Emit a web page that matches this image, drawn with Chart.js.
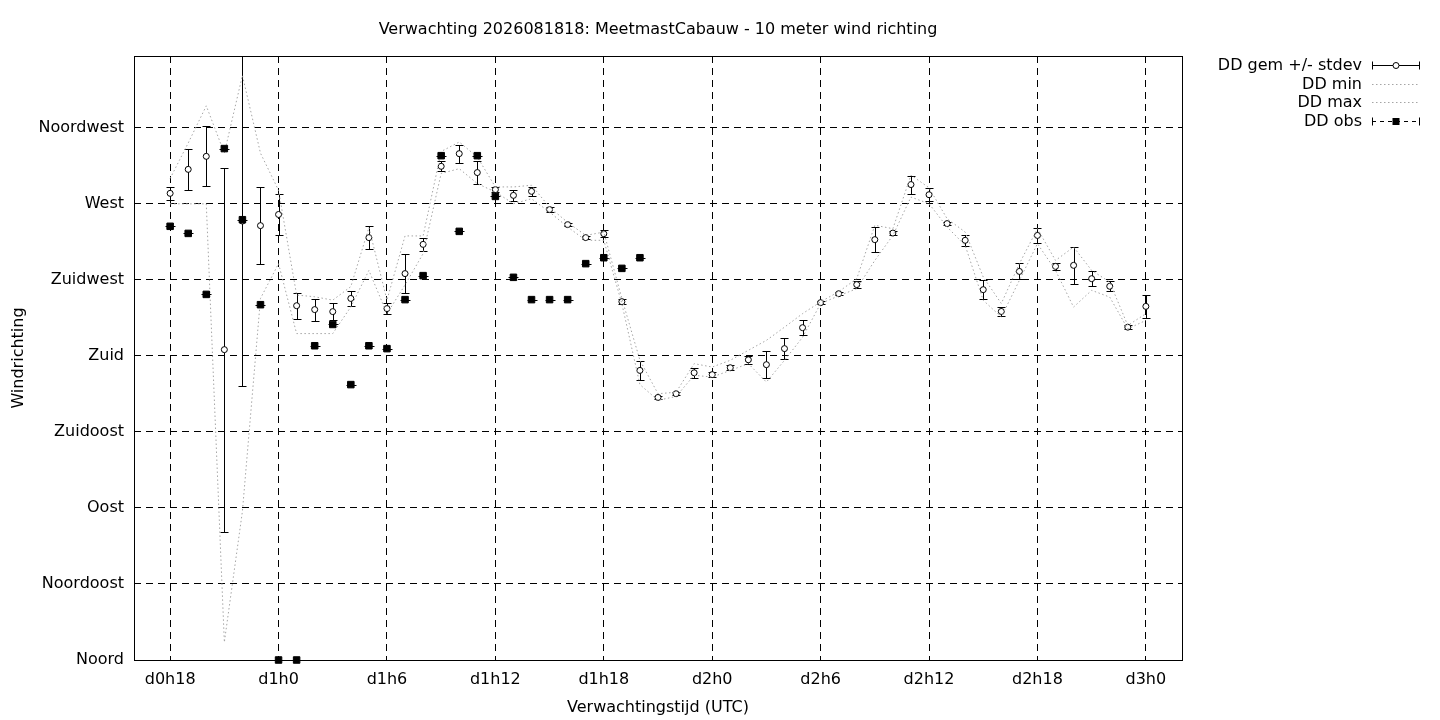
<!DOCTYPE html>
<html>
<head>
<meta charset="utf-8">
<title>Verwachting 2026081818: MeetmastCabauw - 10 meter wind richting</title>
<script src="https://cdn.jsdelivr.net/npm/chart.js"></script>
<style>
  body { margin: 0; background: #fff; }
  canvas { display: block; }
</style>
</head>
<body>
<canvas id="ddChart" width="1440" height="720"></canvas>
<script>
// forecast hours since d0h0 (hourly, d0h18 .. d3h0)
const hours = [18, 19, 20, 21, 22, 23, 24, 25, 26, 27, 28, 29, 30, 31, 32, 33, 34, 35, 36, 37,
  38, 39, 40, 41, 42, 43, 44, 45, 46, 47, 48, 49, 50, 51, 52, 53, 54, 55, 56, 57,
  58, 59, 60, 61, 62, 63, 64, 65, 66, 67, 68, 69, 70, 71, 72];

// ensemble mean wind direction (degrees)
const ddMean = [276.2, 290.4, 298.1, 183.7, 259.8, 257.1, 263.7, 209.7, 207.4, 206.2,
  214.0, 250.0, 208.0, 228.7, 246.0, 292.2, 299.7, 288.5, 278.4, 275.0,
  277.4, 266.6, 257.7, 250.0, 252.3, 212.1, 171.4, 155.4, 157.6, 170.0,
  168.9, 173.0, 177.7, 174.8, 184.3, 196.7, 211.5, 216.8, 222.2, 248.8,
  252.7, 281.4, 275.4, 258.3, 248.4, 219.2, 206.3, 230.0, 251.3, 233.0,
  233.6, 225.7, 221.2, 197.0, 209.3];

// standard deviation around the mean
const ddStdev = [4.0, 12.0, 17.7, 107.7, 97.5, 23.0, 12.3, 7.7, 6.5, 5.0,
  4.5, 6.6, 3.2, 11.5, 3.7, 3.0, 5.3, 7.0, 1.5, 3.3,
  2.6, 1.5, 1.0, 1.0, 2.0, 1.5, 5.4, 1.0, 1.0, 2.8,
  1.5, 1.5, 2.5, 7.8, 6.2, 4.4, 1.0, 0.8, 2.3, 7.4,
  1.0, 5.3, 3.7, 1.0, 3.3, 5.6, 2.6, 4.7, 4.2, 2.2,
  11.0, 4.4, 3.0, 1.0, 6.6];

const ddMin = [270.0, 270.0, 270.0, 10.5, 88.0, 214.0, 234.6, 193.2, 193.2, 193.2,
  209.0, 230.6, 205.0, 222.0, 240.5, 288.0, 290.8, 282.0, 277.0, 270.1,
  273.0, 265.1, 256.3, 248.4, 248.4, 210.9, 163.0, 153.7, 156.0, 168.5,
  167.5, 171.4, 175.4, 164.5, 177.4, 191.0, 211.0, 215.5, 219.8, 236.5,
  251.3, 274.0, 270.1, 256.3, 245.4, 212.9, 203.0, 224.7, 246.4, 230.6,
  208.9, 218.8, 214.8, 196.0, 201.0];

const ddMax = [285.0, 306.0, 328.0, 300.0, 346.0, 300.0, 278.0, 216.0, 215.0, 213.0,
  221.0, 256.0, 213.0, 251.0, 251.0, 301.0, 306.6, 297.7, 280.0, 280.0,
  281.0, 268.0, 259.0, 251.3, 253.3, 214.0, 177.4, 157.6, 158.5, 175.4,
  173.4, 177.4, 183.3, 189.2, 197.0, 205.0, 212.0, 218.0, 225.7, 257.3,
  255.3, 287.0, 279.5, 261.2, 253.3, 226.7, 211.0, 234.6, 255.3, 236.5,
  244.4, 230.6, 223.7, 198.0, 205.0];

// observations (only up to d1h20)
const obsHours = [18, 19, 20, 21, 22, 23, 24, 25, 26, 27, 28, 29, 30, 31,
  32, 33, 34, 35, 36, 37, 38, 39, 40, 41, 42, 43, 44];
const ddObs = [256.7, 252.5, 216.4, 302.7, 260.6, 210.3, 0, 0, 186.0, 198.6, 163.0, 186.0, 184.3, 213.3,
  227.5, 298.5, 253.7, 298.5, 274.4, 226.5, 213.3, 213.3, 213.3, 234.6, 238.1, 231.8, 238.1];

const dirTicks = [0, 45, 90, 135, 180, 225, 270, 315];
const dirLabels = ['Noord', 'Noordoost', 'Oost', 'Zuidoost', 'Zuid', 'Zuidwest', 'West', 'Noordwest'];
const timeTicks = [18, 24, 30, 36, 42, 48, 54, 60, 66, 72];
const timeLabels = ['d0h18', 'd1h0', 'd1h6', 'd1h12', 'd1h18', 'd2h0', 'd2h6', 'd2h12', 'd2h18', 'd3h0'];

const FONT = 'DejaVu Sans';
const FONT_SIZE = 16;
const DOTS = 'rgb(165,165,165)';

Chart.defaults.font.family = FONT;
Chart.defaults.font.size = FONT_SIZE;
Chart.defaults.color = '#000';

function xy(xs, ys) {
  return xs.map((h, i) => ({x: h, y: ys[i]}));
}

// error bars for the mean (+/- stdev) and the small caps on the observations
const errorBars = {
  id: 'errorBars',
  beforeDatasetsDraw(chart) {
    const {ctx, chartArea: a, scales: {x, y}} = chart;
    ctx.save();
    ctx.beginPath();
    ctx.rect(a.left, a.top, a.width, a.height + 5);
    ctx.clip();
    ctx.strokeStyle = '#000';
    ctx.lineWidth = 1;
    ctx.beginPath();
    hours.forEach((h, i) => {
      const px = Math.round(x.getPixelForValue(h)) + 0.5;
      const top = Math.round(y.getPixelForValue(ddMean[i] + ddStdev[i])) + 0.5;
      const bot = Math.round(y.getPixelForValue(ddMean[i] - ddStdev[i])) + 0.5;
      ctx.moveTo(px, top); ctx.lineTo(px, bot);
      ctx.moveTo(px - 4, top); ctx.lineTo(px + 4, top);
      ctx.moveTo(px - 4, bot); ctx.lineTo(px + 4, bot);
    });
    obsHours.forEach((h, i) => {
      const px = Math.round(x.getPixelForValue(h)) + 0.5;
      const py = Math.round(y.getPixelForValue(ddObs[i])) + 0.5;
      ctx.moveTo(px - 5, py); ctx.lineTo(px + 5, py);
    });
    ctx.stroke();
    ctx.restore();

    // plot frame
    ctx.save();
    ctx.strokeStyle = '#000';
    ctx.lineWidth = 1;
    ctx.strokeRect(a.left + 0.5, a.top + 0.5, a.width, a.height);
    ctx.restore();
  }
};

// title and gnuplot style key
const titleAndKey = {
  id: 'titleAndKey',
  afterDraw(chart) {
    const {ctx, chartArea: a} = chart;
    ctx.save();
    ctx.fillStyle = '#000';
    ctx.font = FONT_SIZE + 'px "' + FONT + '"';
    ctx.textBaseline = 'middle';
    ctx.textAlign = 'center';
    ctx.fillText('Verwachting 2026081818: MeetmastCabauw - 10 meter wind richting', (a.left + a.right) / 2, 29.5);

    const x0 = 1372, x1 = 1420, xm = 1396;
    const rows = ['mean', 'min', 'max', 'obs'];
    rows.forEach((kind, r) => {
      const ds = chart.data.datasets.find(d => d.key === kind);
      const yy = Math.round(65 + r * 18.7) + 0.5;
      ctx.textAlign = 'right';
      ctx.fillStyle = '#000';
      ctx.fillText(ds.label, 1362, yy + 0.5);
      ctx.lineWidth = 1;
      if (kind === 'mean' || kind === 'obs') {
        ctx.strokeStyle = '#000';
        ctx.setLineDash(kind === 'obs' ? [4, 4] : []);
        ctx.beginPath();
        ctx.moveTo(x0, yy); ctx.lineTo(x1, yy);
        ctx.stroke();
        ctx.setLineDash([]);
        ctx.beginPath();
        ctx.moveTo(x0 + 0.5, yy - 4); ctx.lineTo(x0 + 0.5, yy + 4);
        ctx.moveTo(x1 - 0.5, yy - 4); ctx.lineTo(x1 - 0.5, yy + 4);
        ctx.stroke();
        if (kind === 'mean') {
          ctx.beginPath();
          ctx.arc(xm, yy, 3, 0, Math.PI * 2);
          ctx.fillStyle = '#fff';
          ctx.fill();
          ctx.stroke();
        } else {
          ctx.fillStyle = '#000';
          ctx.fillRect(xm - 3.5, yy - 3.5, 7, 7);
        }
      } else {
        ctx.strokeStyle = DOTS;
        ctx.setLineDash([1.5, 2.5]);
        ctx.beginPath();
        ctx.moveTo(x0, yy); ctx.lineTo(x1, yy);
        ctx.stroke();
        ctx.setLineDash([]);
      }
    });
    ctx.restore();
  }
};

new Chart(document.getElementById('ddChart'), {
  type: 'line',
  data: {
    datasets: [
      {
        key: 'obs',
        label: 'DD obs',
        data: xy(obsHours, ddObs),
        showLine: false,
        pointStyle: 'rect',
        pointRadius: 4.6,
        pointBackgroundColor: '#000',
        pointBorderColor: '#000',
        pointBorderWidth: 1,
        clip: false
      },
      {
        key: 'max',
        label: 'DD max',
        data: xy(hours, ddMax),
        borderColor: DOTS,
        borderWidth: 1,
        borderDash: [1.5, 2.5],
        pointRadius: 0,
        fill: false,
        tension: 0
      },
      {
        key: 'min',
        label: 'DD min',
        data: xy(hours, ddMin),
        borderColor: DOTS,
        borderWidth: 1,
        borderDash: [1.5, 2.5],
        pointRadius: 0,
        fill: false,
        tension: 0
      },
      {
        key: 'mean',
        label: 'DD gem +/- stdev',
        data: xy(hours, ddMean),
        showLine: false,
        pointStyle: 'circle',
        pointRadius: 3,
        pointBackgroundColor: '#fff',
        pointBorderColor: '#000',
        pointBorderWidth: 1
      }
    ]
  },
  options: {
    responsive: false,
    animation: false,
    devicePixelRatio: 1,
    events: [],
    layout: { padding: { top: 56, right: 258, bottom: 0, left: 0 } },
    plugins: {
      legend: { display: false },
      title: { display: false },
      tooltip: { enabled: false }
    },
    scales: {
      x: {
        type: 'linear',
        min: 16,
        max: 74,
        afterBuildTicks: s => { s.ticks = timeTicks.map(v => ({value: v})); },
        afterFit: s => { s.height = 60; },
        ticks: {
          padding: 10,
          maxRotation: 0,
          autoSkip: false,
          callback: v => timeLabels[timeTicks.indexOf(v)]
        },
        grid: { color: '#000', lineWidth: 1, drawTicks: false },
        border: { display: false, dash: [7, 5] },
        title: { display: true, text: 'Verwachtingstijd (UTC)', padding: { top: 0, bottom: 3 } }
      },
      y: {
        min: 0,
        max: 357.5,
        afterBuildTicks: s => { s.ticks = dirTicks.map(v => ({value: v})); },
        afterFit: s => { s.width = 134; },
        ticks: {
          padding: 10,
          autoSkip: false,
          callback: v => dirLabels[dirTicks.indexOf(v)]
        },
        grid: { color: '#000', lineWidth: 1, drawTicks: false },
        border: { display: false, dash: [7, 5] },
        title: { display: true, text: 'Windrichting', padding: { top: 9, bottom: 0 } }
      }
    }
  },
  plugins: [errorBars, titleAndKey]
});
</script>
</body>
</html>
